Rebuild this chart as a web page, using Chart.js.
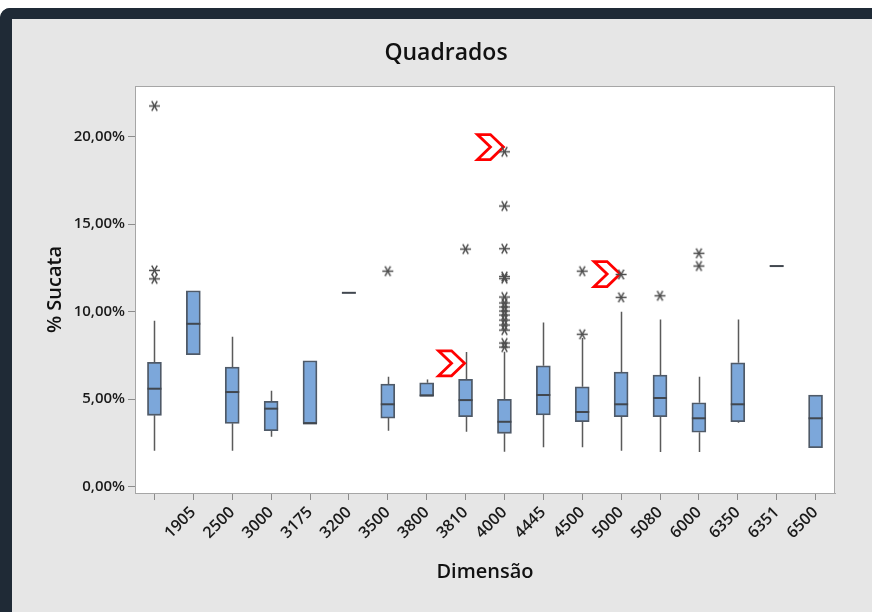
<!DOCTYPE html>
<html><head><meta charset="utf-8">
<script src="https://cdn.jsdelivr.net/npm/chart.js@4/dist/chart.umd.min.js"></script>
<style>
html,body{margin:0;padding:0;width:872px;height:612px;overflow:hidden;background:#ffffff;}
#frame{position:absolute;left:0;top:8px;width:872px;height:604px;box-sizing:border-box;background:#e6e6e6;border-top:11px solid #1f2a36;border-left:12px solid #1f2a36;border-top-left-radius:10px;}
#wrap{position:absolute;left:0;top:0;width:872px;height:612px;}
</style></head><body>
<div id="frame"></div>
<div id="wrap"><canvas id="c" width="872" height="612"></canvas></div>
<script>
// ---- data (values in %) ----
const chartTitle = 'Quadrados';
const categories = ['', '1905', '2500', '3000', '3175', '3200', '3500', '3800', '3810', '4000', '4445', '4500', '5000', '5080', '6000', '6350', '6351', '6500'];
const whiskerLow  = [2.05, 7.53, 2.05, 2.85, 3.61, 11.07, 3.19, 5.17, 3.13, 1.99, 2.24, 2.24, 2.05, 1.97, 1.97, 3.65, 12.6, 2.22];
const q1          = [4.07, 7.53, 3.61, 3.19, 3.61, 11.07, 3.91, 5.17, 3.99, 3.04, 4.09, 3.70, 3.99, 3.99, 3.10, 3.70, 12.6, 2.22];
const median      = [5.59, 9.30, 5.40, 4.45, 3.61, 11.07, 4.70, 5.20, 4.94, 3.70, 5.23, 4.26, 4.70, 5.06, 3.90, 4.70, 12.6, 3.90];
const q3          = [7.10, 11.19, 6.83, 4.87, 7.19, 11.07, 5.86, 5.93, 6.13, 4.98, 6.90, 5.70, 6.54, 6.37, 4.79, 7.07, 12.6, 5.23];
const whiskerHigh = [9.47, 11.19, 8.56, 5.48, 7.19, 11.07, 6.28, 6.12, 7.69, 7.70, 9.38, 8.49, 9.99, 9.55, 6.28, 9.55, 12.6, 5.23];

// outliers: category and value, pairwise
const outlierCats = [
  '', '', '',
  '3500',
  '3810',
  '4000', '4000', '4000', '4000', '4000', '4000', '4000', '4000', '4000', '4000', '4000', '4000', '4000', '4000', '4000',
  '4500', '4500',
  '5000', '5000',
  '5080',
  '6000', '6000'];
const outlierValues = [
  21.75, 12.35, 11.87,
  12.31,
  13.57,
  19.13, 16.03, 13.59, 12.0, 11.88, 10.83, 10.49, 10.26, 10.03, 9.8, 9.51, 9.23, 8.94, 8.2, 7.97,
  12.31, 8.70,
  12.12, 10.81,
  10.90,
  13.33, 12.6];
const yTicks = [0, 5, 10, 15, 20];

// red highlight markers (annotations)
const markerCats = ['4000', '5000', '3810'];
const markerValues = [19.4, 12.14, 7.04];

function makeStar() {
  const c = document.createElement('canvas');
  c.width = 13; c.height = 13;
  const g = c.getContext('2d');
  g.strokeStyle = '#4d4d4d'; g.lineWidth = 1.5;
  const r = 5.5;
  for (const a of [0, 60, 120]) {
    const rad = a * Math.PI / 180;
    g.beginPath();
    g.moveTo(6.5 + r * Math.cos(rad), 6.5 + r * Math.sin(rad));
    g.lineTo(6.5 - r * Math.cos(rad), 6.5 - r * Math.sin(rad));
    g.stroke();
  }
  return c;
}

const outlierData = outlierCats.map((c, i) => ({x: c, y: outlierValues[i]}));

const boxPlugin = {
  id: 'boxParts',
  beforeDraw(chart) {
    const {ctx, chartArea: a} = chart;
    ctx.save();
    ctx.fillStyle = '#ffffff';
    ctx.fillRect(a.left, a.top, a.right - a.left, a.bottom - a.top);
    ctx.restore();
  },
  beforeDatasetsDraw(chart) {
    const {ctx} = chart;
    const xs = chart.scales.x, ys = chart.scales.y;
    ctx.save();
    ctx.strokeStyle = '#5a5a5a';
    ctx.lineWidth = 1.5;
    categories.forEach((c, i) => {
      const x = Math.round(xs.getPixelForValue(i)) + 0.5;
      ctx.beginPath();
      ctx.moveTo(x, ys.getPixelForValue(q3[i]));
      ctx.lineTo(x, ys.getPixelForValue(whiskerHigh[i]));
      ctx.moveTo(x, ys.getPixelForValue(q1[i]));
      ctx.lineTo(x, ys.getPixelForValue(whiskerLow[i]));
      ctx.stroke();
    });
    // red markers
    ctx.strokeStyle = '#ff0000';
    ctx.lineWidth = 2.8;
    ctx.lineJoin = 'miter';
    markerCats.forEach((c, i) => {
      const xc = xs.getPixelForValue(categories.indexOf(c)) - 1;
      const yc = ys.getPixelForValue(markerValues[i]);
      const w = 26, h = 25;
      ctx.beginPath();
      ctx.moveTo(xc - w, yc - h / 2);
      ctx.lineTo(xc - w / 2, yc - h / 2);
      ctx.lineTo(xc, yc);
      ctx.lineTo(xc - w / 2, yc + h / 2);
      ctx.lineTo(xc - w, yc + h / 2);
      ctx.lineTo(xc - w / 2, yc);
      ctx.closePath();
      ctx.stroke();
    });
    ctx.restore();
  },
  afterDatasetsDraw(chart) {
    const {ctx, chartArea: a} = chart;
    const ys = chart.scales.y;
    const meta = chart.getDatasetMeta(0);
    ctx.save();
    ctx.strokeStyle = '#41474f';
    ctx.lineWidth = 2;
    categories.forEach((c, i) => {
      const bar = meta.data[i];
      const half = bar.width / 2;
      const y = ys.getPixelForValue(median[i]);
      ctx.beginPath();
      ctx.moveTo(bar.x - half, y);
      ctx.lineTo(bar.x + half, y);
      ctx.stroke();
    });
    ctx.strokeStyle = '#a6a6a6';
    ctx.lineWidth = 1;
    ctx.strokeRect(a.left + 0.5, a.top + 0.5, a.right - a.left - 1, a.bottom - a.top);
    ctx.restore();
  },
  afterDraw(chart) {
    const {ctx} = chart;
    ctx.save();
    ctx.fillStyle = '#111111';
    ctx.font = '600 23px "Open Sans"';
    ctx.textAlign = 'center';
    ctx.textBaseline = 'middle';
    ctx.fillText(chartTitle, 446, 53);
    ctx.restore();
  }
};

new Chart(document.getElementById('c'), {
  data: {
    labels: categories,
    datasets: [
      {
        type: 'bar',
        data: categories.map((c, i) => [q1[i], q3[i]]),
        backgroundColor: '#7ca7da',
        borderColor: '#4f5a68',
        borderWidth: 1.8,
        borderSkipped: false,
        barThickness: 14
      },
      {
        type: 'line',
        data: outlierData,
        showLine: false,
        pointStyle: makeStar(),
        pointRadius: 5,
        pointHoverRadius: 5
      }
    ]
  },
  options: {
    responsive: false,
    animation: false,
    events: [],
    layout: {padding: {left: 0, right: 37, top: 86, bottom: 0}},
    plugins: {
      legend: {display: false},
      tooltip: {enabled: false},
      title: {display: false}
    },
    scales: {
      x: {
        type: 'category',
        offset: true,
        grid: {drawOnChartArea: false, drawTicks: true, tickLength: 7, color: '#8c8c8c', offset: false},
        border: {display: true, color: '#a6a6a6'},
        ticks: {autoSkip: false, minRotation: 45, maxRotation: 45, padding: 3, color: '#1a1a1a',
          font: {family: 'Open Sans', size: 16, weight: '600'}},
        title: {display: true, text: 'Dimensão', color: '#111111',
          font: {family: 'Open Sans', size: 20, weight: '600'}, padding: {top: 0, bottom: 28}},
        afterFit(s) { s.height = 119; }
      },
      y: {
        type: 'linear',
        min: -0.37,
        max: 22.89,
        grid: {drawOnChartArea: false, drawTicks: true, tickLength: 7, color: '#8c8c8c'},
        border: {display: true, color: '#a6a6a6'},
        afterBuildTicks(s) { s.ticks = yTicks.map(v => ({value: v})); },
        ticks: {padding: 3, color: '#1a1a1a', font: {family: 'Open Sans', size: 15, weight: '600'},
          callback: v => v.toFixed(2).replace('.', ',') + '%'},
        title: {display: true, text: '% Sucata', color: '#111111',
          font: {family: 'Open Sans', size: 20, weight: '600'}, padding: {top: 43, bottom: 0}},
        afterFit(s) { s.width = 135; }
      }
    }
  },
  plugins: [boxPlugin]
});
</script>
</body></html>
